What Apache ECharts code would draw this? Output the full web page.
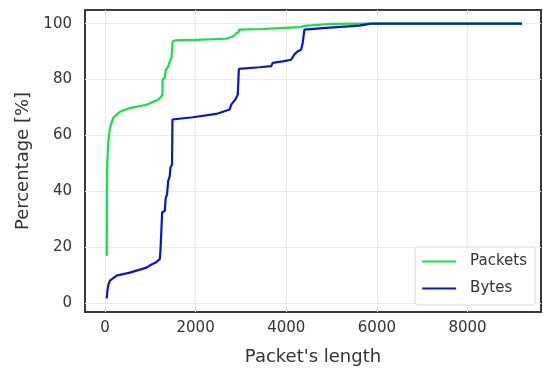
<!DOCTYPE html>
<html>
<head>
<meta charset="utf-8">
<script src="https://cdn.jsdelivr.net/npm/echarts@6/dist/echarts.min.js"></script>
<style>
  html, body { margin: 0; padding: 0; background: #fff; }
  #chart { width: 543px; height: 371px; }
</style>
</head>
<body>
<div id="chart"></div>
<script>
const labelColor = '#333'; // tick label colour
const gridColor = '#ebebeb';
const fontName = 'DejaVu Sans';

const xTicks = [0, 2000, 4000, 6000, 8000];
const yTicks = [0, 20, 40, 60, 80, 100];

// Packets CDF
const packetLen = [40, 42, 45, 52, 73, 110, 183, 330, 550, 917, 1173, 1247, 1269, 1272, 1320, 1342, 1393, 1430, 1467, 1490, 1495, 1550, 2000, 2677, 2823, 2897, 2950, 2960, 3483, 3850, 4300, 4400, 4422, 5000, 5867, 9200];
const packetPct = [16.9, 30, 40, 50, 57.4, 62.7, 66.3, 68.5, 69.8, 71, 72.8, 74, 75, 80, 80.6, 83.4, 84.6, 86.5, 87.6, 88, 93.7, 94, 94.2, 94.6, 95.4, 96.6, 96.9, 97.9, 98.1, 98.4, 98.8, 99.2, 99.8, 99.9, 100, 100];

// Bytes CDF
const bytesLen = [40, 55, 75, 110, 257, 550, 917, 1027, 1120, 1210, 1225, 1258, 1262, 1320, 1342, 1370, 1395, 1430, 1445, 1481, 1489, 1943, 2457, 2500, 2750, 2790, 2880, 2930, 2955, 3410, 3667, 3703, 3923, 4107, 4180, 4253, 4327, 4363, 4400, 4422, 4877, 5610, 5867, 9200];
const bytesPct = [1.7, 4.5, 6.5, 8, 9.8, 10.9, 12.7, 13.8, 14.5, 15.7, 18.7, 19.3, 32.4, 33, 37.7, 38.9, 43.7, 45.5, 48.5, 49.6, 65.7, 66.5, 67.7, 68.3, 69.3, 71.1, 72.9, 74.6, 83.8, 84.4, 84.8, 86, 86.5, 87.1, 89, 90.1, 90.7, 93.1, 97.9, 98.1, 98.5, 99.3, 100, 100];

const pairs = (xs, ys) => xs.map((x, i) => [x, ys[i]]);

const chart = echarts.init(document.getElementById('chart'));
chart.setOption({
  animation: false,
  textStyle: { fontFamily: fontName },
  grid: {
    left: 85, right: 2, top: 10, bottom: 58,
    show: true,
    borderColor: '#3a3a3a',
    borderWidth: 2
  },
  legend: {
    orient: 'vertical',
    right: 8,
    bottom: 66,
    data: ['Packets', 'Bytes'],
    itemWidth: 34,
    itemHeight: 14,
    itemGap: 12,
    padding: [7, 8, 9, 6],
    backgroundColor: '#fff',
    borderColor: '#d9d9d9',
    borderWidth: 1,
    borderRadius: 3,
    itemStyle: { opacity: 0 },
    lineStyle: { width: 2 },
    textStyle: { fontSize: 15, color: labelColor, fontFamily: fontName, padding: [0, 0, 0, 9] }
  },
  xAxis: {
    type: 'value',
    min: -440,
    max: 9620,
    name: "Packet's length",
    nameLocation: 'middle',
    nameGap: 36,
    nameTextStyle: { fontSize: 18, color: labelColor, fontFamily: fontName },
    axisLine: { show: false },
    axisTick: { show: false, customValues: xTicks },
    axisLabel: { customValues: xTicks, fontSize: 15, color: labelColor, margin: 9, formatter: v => String(v) },
    splitLine: { show: true, lineStyle: { color: gridColor, width: 1 } }
  },
  yAxis: {
    type: 'value',
    min: -3.2,
    max: 104.9,
    name: 'Percentage [%]',
    nameLocation: 'middle',
    nameGap: 52,
    nameTextStyle: { fontSize: 18, color: labelColor, fontFamily: fontName },
    axisLine: { show: false },
    axisTick: { show: false, customValues: yTicks },
    axisLabel: { customValues: yTicks, fontSize: 15, color: labelColor, margin: 13, formatter: v => String(v) },
    splitLine: { show: true, lineStyle: { color: gridColor, width: 1 } }
  },
  series: [
    {
      name: 'Packets',
      type: 'line',
      symbol: 'none',
      color: '#14e04a',
      lineStyle: { width: 2.2 },
      data: pairs(packetLen, packetPct)
    },
    {
      name: 'Bytes',
      type: 'line',
      symbol: 'none',
      color: '#0a14c8',
      lineStyle: { width: 2.2 },
      data: pairs(bytesLen, bytesPct)
    }
  ]
});
</script>
</body>
</html>
